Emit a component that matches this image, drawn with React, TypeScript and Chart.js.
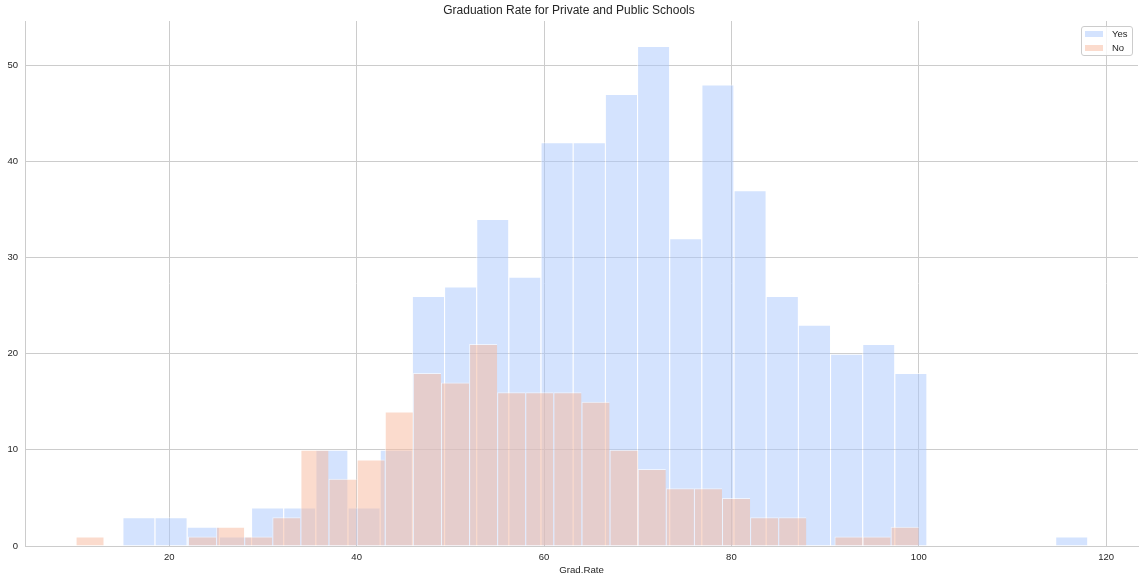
import React, { useEffect, useRef } from 'react';
import { Chart, registerables } from 'chart.js';

Chart.register(...registerables);

// Histogram counts per bin (30 equal-width bins each)
const privateYesCounts = [3, 3, 2, 1, 4, 4, 10, 4, 10, 26, 27, 34, 28, 42, 42, 47, 52, 32, 48, 37, 26, 23, 20, 21, 18, 0, 0, 0, 0, 1];
const privateNoCounts = [1, 0, 0, 0, 1, 2, 1, 3, 10, 7, 9, 14, 18, 17, 21, 16, 16, 16, 15, 10, 8, 6, 6, 5, 3, 3, 0, 1, 1, 2];
// Histogram ranges (min, max of Grad.Rate in each group)
const yesRange = [15, 118];
const noRange = [10, 100];
const seriesLabels = ['Yes', 'No'];
const xTickValues = [20, 40, 60, 80, 100, 120];
const yTickValues = [0, 10, 20, 30, 40, 50];
const xLimits = [4.6, 123.4];
const yLimits = [0, 54.6];

const FONT = "'Liberation Sans', Arial, Helvetica, sans-serif";
const TEXT = '#262626';
const GRID = '#cccccc';
const YES_FILL = 'rgba(170, 199, 253, 0.5)';
const NO_FILL = 'rgba(247, 184, 156, 0.5)';

function binPoints(range: number[], counts: number[]) {
  const w = (range[1] - range[0]) / counts.length;
  return counts.map((c, i) => ({ x: range[0] + (i + 0.5) * w, y: c }));
}

export default function App() {
  const canvasRef = useRef<HTMLCanvasElement | null>(null);

  useEffect(() => {
    document.body.style.margin = '0';
    const canvas = canvasRef.current;
    if (!canvas) return;
    const tickFont = { size: 9.5, family: FONT };
    const chart = new Chart(canvas, {
      type: 'bar',
      data: {
        datasets: [
          {
            label: seriesLabels[0],
            data: binPoints(yesRange, privateYesCounts),
            xAxisID: 'x',
            yAxisID: 'y',
            backgroundColor: YES_FILL,
            borderColor: 'rgba(255,255,255,0.6)',
            borderWidth: { top: 1, left: 1, right: 0, bottom: 0 },
            barPercentage: 1,
            categoryPercentage: 1,
            grouped: false,
            inflateAmount: 0,
            order: 2,
          } as any,
          {
            label: seriesLabels[1],
            data: binPoints(noRange, privateNoCounts),
            xAxisID: 'x2',
            yAxisID: 'y',
            backgroundColor: NO_FILL,
            borderColor: 'rgba(255,255,255,0.6)',
            borderWidth: { top: 1, left: 1, right: 0, bottom: 0 },
            barPercentage: 1,
            categoryPercentage: 1,
            grouped: false,
            inflateAmount: 0,
            order: 1,
          } as any,
        ],
      },
      options: {
        responsive: false,
        animation: false,
        devicePixelRatio: 1,
        layout: { padding: { left: 0, right: 6, top: 0, bottom: 0 } },
        plugins: {
          legend: { display: false },
          tooltip: { enabled: false },
          title: {
            display: true,
            text: 'Graduation Rate for Private and Public Schools',
            color: TEXT,
            font: { size: 12, weight: 'normal', family: FONT },
            padding: { top: 3.8, bottom: 2.8 },
          },
        },
        scales: {
          x: {
            type: 'linear',
            position: 'bottom',
            min: xLimits[0],
            max: xLimits[1],
            offset: false,
            grid: { color: GRID, lineWidth: 1, drawTicks: false, offset: false },
            border: { display: true, color: GRID, width: 1 },
            ticks: { padding: 6, color: TEXT, font: tickFont, autoSkip: false, maxRotation: 0, includeBounds: false },
            afterBuildTicks: (s: any) => {
              s.ticks = xTickValues.map((v) => ({ value: v }));
            },
            afterFit: (s: any) => {
              s.height = 36;
            },
            title: { display: true, text: 'Grad.Rate', color: TEXT, font: { size: 9.7, family: FONT }, padding: { top: 0, bottom: 5.5 } },
          },
          x2: {
            type: 'linear',
            position: 'bottom',
            display: false,
            min: xLimits[0],
            max: xLimits[1],
            offset: false,
            grid: { offset: false },
          },
          y: {
            type: 'linear',
            position: 'left',
            min: yLimits[0],
            max: yLimits[1],
            grid: { color: GRID, lineWidth: 1, drawTicks: false },
            border: { display: true, color: GRID, width: 1 },
            ticks: { padding: 7, color: TEXT, font: tickFont, includeBounds: false },
            afterBuildTicks: (s: any) => {
              s.ticks = yTickValues.map((v) => ({ value: v }));
            },
            afterFit: (s: any) => {
              s.width = 25;
            },
          },
        },
      } as any,
    });
    return () => chart.destroy();
  }, []);

  const legendColors = [YES_FILL, NO_FILL];

  return (
    <div style={{ position: 'relative', width: 1144, height: 582, overflow: 'hidden', background: '#ffffff' }}>
      <canvas ref={canvasRef} width={1144} height={582} style={{ display: 'block', width: 1144, height: 582 }} />
      <div
        style={{
          position: 'absolute',
          left: 1081,
          top: 26,
          width: 52,
          height: 30,
          boxSizing: 'border-box',
          border: '1px solid #cccccc',
          borderRadius: 3,
          background: 'rgba(255,255,255,0.8)',
          fontFamily: FONT,
          fontSize: '9.5px',
          color: TEXT,
        }}
      >
        {seriesLabels.map((lab, i) => (
          <React.Fragment key={lab}>
            <div
              style={{
                position: 'absolute',
                left: 2.7,
                top: 3.8 + i * 14,
                width: 18.6,
                height: 6.5,
                background: legendColors[i],
              }}
            />
            <div
              style={{
                position: 'absolute',
                left: 30,
                top: 1 + i * 14,
                lineHeight: '12px',
                whiteSpace: 'nowrap',
              }}
            >
              {lab}
            </div>
          </React.Fragment>
        ))}
      </div>
    </div>
  );
}
